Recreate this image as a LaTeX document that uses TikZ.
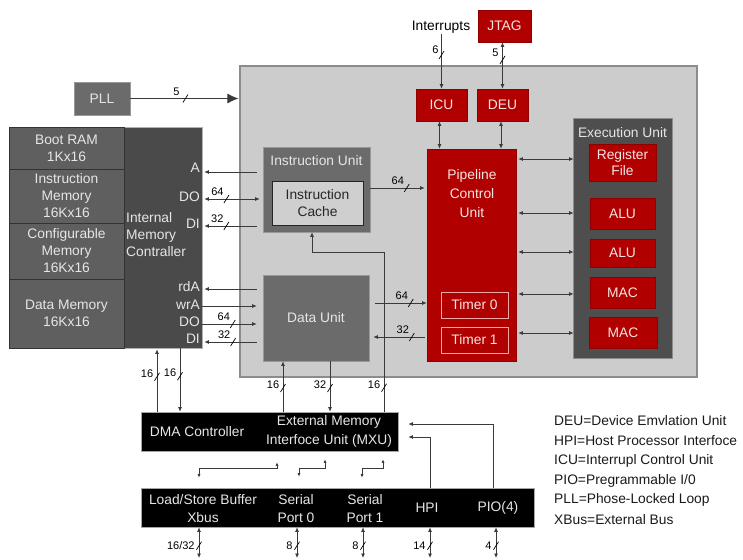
\documentclass[tikz,border=0pt]{standalone}
\usepackage{fontspec}
\setmainfont{Liberation Sans}
\usetikzlibrary{arrows.meta}
\definecolor{redA}{HTML}{B00000}
\definecolor{redD}{HTML}{900000}
\definecolor{coreF}{HTML}{CCCCCC}
\definecolor{coreD}{HTML}{8C8C8C}
\definecolor{unitF}{HTML}{6B6B6B}
\definecolor{execF}{HTML}{4E4E4E}
\definecolor{memF}{HTML}{5F5F5F}
\definecolor{ctrlF}{HTML}{4A4A4A}
\definecolor{lineC}{HTML}{3A3A3A}
\definecolor{ltxt}{HTML}{E6E6E6}
\definecolor{rtxt}{HTML}{F6E4E4}
\definecolor{tmrD}{HTML}{F0A8A8}
\begin{document}
\begin{tikzpicture}[x=1pt,y=-1pt,
  font=\fontsize{13.8}{17}\selectfont,
  box/.style={draw, inner sep=0pt, align=center, line width=0.6pt},
  redbox/.style={box, fill=redA, draw=redD, text=rtxt},
  graybox/.style={box, fill=unitF, draw=gray!80, text=ltxt},
  memsec/.style={box, fill=memF, draw=black!80, text=ltxt, minimum width=115pt},
  blackbox/.style={box, fill=black, draw=gray!70},
  tmr/.style={box, draw=tmrD, line width=0.8pt, text=rtxt, minimum width=67pt, minimum height=26pt},
  plab/.style={anchor=east, inner sep=0pt, text=ltxt},
  num/.style={font=\fontsize{11}{12}\selectfont, inner sep=0pt, text=black},
  hnum/.style={num, xshift=-9pt, yshift=7pt},
  vnum/.style={num, xshift=-10pt, yshift=3pt},
  bnum/.style={num, anchor=east, xshift=-4pt},
  ln/.style={draw=lineC, line width=0.8pt},
  arr/.style={ln, -{Latex[length=4.5pt,width=4pt]}},
  dbl/.style={ln, {Latex[length=4.5pt,width=4pt]}-{Latex[length=4.5pt,width=4pt]}},
  sdbl/.style={ln, line width=0.7pt, {Latex[length=3.5pt,width=3pt]}-{Latex[length=3.5pt,width=3pt]}},
  leg/.style={anchor=west, inner sep=0pt, text=black!90},
  bw/.pic={\draw[line width=0.7pt, black, arrows=-] (-2.5,4) -- (2.5,-4);}
]
\useasboundingbox (0,0) rectangle (743,559);

% ---------- core area
\node[box, draw=coreD, fill=coreF, line width=1.5pt, minimum width=457pt, minimum height=311pt] (core) at (468.5,221.5) {};

% ---------- PLL
\node[graybox, minimum width=56pt, minimum height=33pt] (pll) at (102,98.5) {PLL};
\draw[draw=lineC, line width=0.8pt, -{Latex[length=11pt,width=10pt]}] (pll.east) -- ([xshift=-0.8pt]core.west |- pll.east)
  pic[pos=.51]{bw} node[pos=.51, hnum]{5};

% ---------- top units
\node[inner sep=1pt] (intr) at (441,27) {Interrupts};
\node[redbox, minimum width=53pt, minimum height=32pt] (jtag) at (504.5,26) {JTAG};
\node[redbox, minimum width=51pt, minimum height=32pt] (icu) at (441.5,105) {ICU};
\node[redbox, minimum width=51pt, minimum height=32pt] (deu) at (502.5,105) {DEU};
\draw[arr] (intr.south -| icu.north) -- (icu.north)
  pic[pos=.38]{bw} node[pos=.38, num, xshift=-6pt, yshift=5pt]{6};
\draw[dbl] (jtag.south -| deu.north) -- (deu.north)
  pic[pos=.38]{bw} node[pos=.38, num, xshift=-7pt, yshift=7pt]{5};

% ---------- pipeline
\node[redbox, minimum width=89pt, minimum height=212pt] (pipe) at (471.5,255) {};
\node[text=rtxt, align=center, inner sep=0pt, font=\fontsize{13.8}{19}\selectfont] (pipetxt) at (472,194) {Pipeline\\Control\\Unit};
\node[tmr] (t0) at (474.5,305) {Timer 0};
\node[tmr] (t1) at (474.5,340) {Timer 1};
\draw[dbl] ([xshift=-2pt]icu.south) -- ([xshift=-2pt]icu.south |- pipe.north);
\draw[dbl] ([xshift=-1.5pt]deu.south) -- ([xshift=-1.5pt]deu.south |- pipe.north);

% ---------- execution unit
\node[box, fill=execF, draw=gray!90, line width=0.8pt, minimum width=99pt, minimum height=240pt] (exec) at (622.5,238) {};
\node[text=ltxt, inner sep=0pt] (exectxt) at (622.5,133) {Execution Unit};
\node[redbox, minimum width=67pt, minimum height=37pt, font=\fontsize{13.8}{16}\selectfont] (reg) at (622.5,162.5) {Register\\File};
\node[redbox, minimum width=65pt, minimum height=31pt] (alu1) at (622.5,213.5) {ALU};
\node[redbox, minimum width=65pt, minimum height=28pt] (alu2) at (622.5,253) {ALU};
\node[redbox, minimum width=65pt, minimum height=31pt] (mac1) at (622.5,292.5) {MAC};
\node[redbox, minimum width=68pt, minimum height=31pt] (mac2) at (623,332.5) {MAC};
\foreach \yy in {159,213,252,294,333}{
  \draw[dbl] ([xshift=2pt]pipe.east |- 0,\yy) -- ([xshift=1pt]exec.west |- 0,\yy);
}

% ---------- instruction / data units
\node[graybox, minimum width=107pt, minimum height=85pt] (iu) at (316.5,189.5) {};
\node[text=ltxt, inner sep=0pt] (iutxt) at (316.5,161) {Instruction Unit};
\node[box, fill=coreF!95!white, draw=black!85, line width=0.8pt, minimum width=91pt, minimum height=44pt, font=\fontsize{13.8}{17}\selectfont, text=black!85] (cache) at (317.5,203) {Instruction\\Cache};
\node[graybox, minimum width=106pt, minimum height=86pt] (du) at (316,318) {Data Unit};

\draw[arr] (iu.east |- 0,188) -- ([xshift=-2pt]pipe.west |- 0,188)
  pic[pos=.67]{bw} node[pos=.67, hnum]{64};
\draw[arr] ([xshift=6pt]du.east |- 0,303) -- (pipe.west |- 0,303)
  pic[pos=.69]{bw} node[pos=.69, hnum]{64};
\draw[arr] ([xshift=-2pt]pipe.west |- 0,337) -- ([xshift=4pt]du.east |- 0,337)
  pic[pos=.25]{bw} node[pos=.25, hnum]{32};

% ---------- memory block
\node[box, draw=gray!60, fill=ctrlF, minimum width=78pt, minimum height=221pt] (ctrl) at (163,237.5) {};
\node[memsec, minimum height=42pt] (boot) at (66.5,148) {Boot RAM\\1Kx16};
\node[memsec, minimum height=54pt] (imem) at (66.5,196) {Instruction\\Memory\\16Kx16};
\node[memsec, minimum height=56pt] (cmem) at (66.5,251) {Configurable\\Memory\\16Kx16};
\node[memsec, minimum height=69pt] (dmem) at (66.5,313.5) {Data Memory\\16Kx16};
\node[anchor=west, align=left, text=ltxt, inner sep=0pt] (ctrltxt) at (126,235) {Internal\\Memory\\Contraller};
\node[plab] (pA) at (200,168) {A};
\node[plab] (pDO1) at (200,197) {DO};
\node[plab] (pDI1) at (200,224) {DI};
\node[plab] (prdA) at (200,287) {rdA};
\node[plab] (pwrA) at (200,305) {wrA};
\node[plab] (pDO2) at (200,322) {DO};
\node[plab] (pDI2) at (200,339) {DI};

\draw[arr] ([xshift=-6pt]iu.west |- 0,172) -- ([xshift=2pt]ctrl.east |- 0,172);
\draw[dbl] ([xshift=2pt]ctrl.east |- 0,199) -- ([xshift=-3pt]iu.west |- 0,199)
  pic[pos=.4]{bw} node[pos=.4, hnum]{64};
\draw[arr] ([xshift=-6pt]iu.west |- 0,226) -- ([xshift=2pt]ctrl.east |- 0,226)
  pic[pos=.58]{bw} node[pos=.58, hnum]{32};
\draw[arr] ([xshift=-6pt]du.west |- 0,289) -- ([xshift=2pt]ctrl.east |- 0,289);
\draw[arr] (ctrl.east |- 0,306) -- ([xshift=-6pt]du.west |- 0,306);
\draw[arr] (ctrl.east |- 0,324) -- ([xshift=-6pt]du.west |- 0,324)
  pic[pos=.56]{bw} node[pos=.56, hnum]{64};
\draw[arr] ([xshift=-6pt]du.west |- 0,342) -- ([xshift=2pt]ctrl.east |- 0,342)
  pic[pos=.45]{bw} node[pos=.45, hnum]{32};

% ---------- DMA / MXU
\node[blackbox, minimum width=257pt, minimum height=39pt] (emb) at (269.5,431.5) {};
\node[text=ltxt, inner sep=0pt] (dma) at (197,432) {DMA Controller};
\node[text=ltxt, inner sep=0pt, align=center, font=\fontsize{13.8}{19}\selectfont] (mxu) at (329,431.5) {External Memory\\Interfoce Unit (MXU)};

\draw[arr] (emb.north -| 157,0) -- ([yshift=-1pt]ctrl.south -| 157,0)
  pic[pos=.56]{bw} node[pos=.56, vnum]{16};
\draw[arr] (ctrl.south -| 180,0) -- (emb.north -| 180,0)
  pic[pos=.44]{bw} node[pos=.44, vnum]{16};
\draw[arr] (emb.north -| 283,0) -- (du.south -| 283,0)
  pic[pos=.47]{bw} node[pos=.47, vnum]{16};
\draw[arr] (du.south -| 330,0) -- (emb.north -| 330,0)
  pic[pos=.53]{bw} node[pos=.53, vnum]{32};
\draw[arr] (emb.north -| 384,0) -- (384,252)
  pic[pos=.15]{bw} node[pos=.15, vnum]{16}
  -| ([xshift=-4.5pt]iu.south);

% ---------- bottom bus
\node[blackbox, minimum width=393pt, minimum height=39pt] (bus) at (337.5,507.5) {};
\node[text=ltxt, inner sep=0pt, align=center, font=\fontsize{13.8}{18}\selectfont] (lsb) at (203,509) {Load/Store Buffer\\Xbus};
\node[text=ltxt, inner sep=0pt, align=center, font=\fontsize{13.8}{18}\selectfont] (sp0) at (296,509) {Serial\\Port 0};
\node[text=ltxt, inner sep=0pt, align=center, font=\fontsize{13.8}{18}\selectfont] (sp1) at (365,509) {Serial\\Port 1};
\node[text=ltxt, inner sep=0pt] (hpi) at (427,508) {HPI};
\node[text=ltxt, inner sep=0pt] (pio) at (498,508) {PIO(4)};

\draw[sdbl] ([yshift=-11pt]emb.south -| 277,0) |- (199,468) -- ([yshift=10pt]bus.north -| 199,0);
\draw[sdbl] ([yshift=-8pt]emb.south -| 325,0) |- (299,468) -- ([yshift=11pt]bus.north -| 299,0);
\draw[sdbl] ([yshift=-8pt]emb.south -| 383,0) |- (362,468) -- ([yshift=10pt]bus.north -| 362,0);

\draw[arr] (bus.north -| 430,0) |- ([xshift=10pt]emb.east |- 0,437);
\draw[arr] (bus.north -| 493,0) |- ([xshift=10pt]emb.east |- 0,424);

\coordinate (e1) at (199,558);
\coordinate (e2) at (297,558);
\coordinate (e3) at (363,558);
\coordinate (e4) at (430,558);
\coordinate (e5) at (496,558);
\draw[dbl] (bus.south -| e1) -- (e1) pic[pos=.6]{bw} node[pos=.6, bnum]{16/32};
\draw[dbl] (bus.south -| e2) -- (e2) pic[pos=.6]{bw} node[pos=.6, bnum]{8};
\draw[dbl] (bus.south -| e3) -- (e3) pic[pos=.6]{bw} node[pos=.6, bnum]{8};
\draw[dbl] (bus.south -| e4) -- (e4) pic[pos=.6]{bw} node[pos=.6, bnum]{14};
\draw[dbl] (bus.south -| e5) -- (e5) pic[pos=.6]{bw} node[pos=.6, bnum]{4};

% ---------- legend
\node[leg] (l1) at (554,421) {DEU=Device Emvlation Unit};
\node[leg] (l2) at (554,441) {HPI=Host Processor Interfoce};
\node[leg] (l3) at (554,461) {ICU=Interrupl Control Unit};
\node[leg] (l4) at (554,481) {PIO=Pregrammable I/0};
\node[leg] (l5) at (554,500) {PLL=Phose-Locked Loop};
\node[leg] (l6) at (554,520) {XBus=External Bus};
\end{tikzpicture}
\end{document}
